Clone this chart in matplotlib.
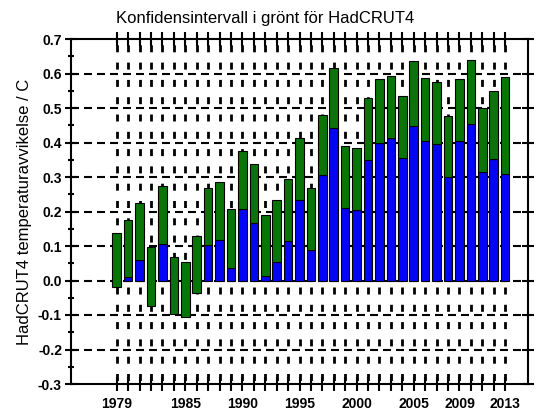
import matplotlib
matplotlib.use("Agg")
import matplotlib.pyplot as plt
import numpy as np

plt.rcParams['font.family'] = ['Liberation Sans', 'DejaVu Sans']
plt.rcParams['lines.scale_dashes'] = False

years = list(range(1979, 2014))
lower = [-0.019, 0.010, 0.060, -0.073, 0.107, -0.096, -0.107, -0.036, 0.103, 0.117,
         0.036, 0.207, 0.166, 0.014, 0.055, 0.115, 0.234, 0.089, 0.305, 0.441,
         0.210, 0.204, 0.349, 0.400, 0.412, 0.355, 0.447, 0.403, 0.396, 0.300,
         0.403, 0.455, 0.314, 0.351, 0.308]
upper = [0.137, 0.175, 0.224, 0.097, 0.274, 0.068, 0.054, 0.129, 0.268, 0.285,
         0.207, 0.376, 0.337, 0.190, 0.233, 0.294, 0.412, 0.268, 0.479, 0.616,
         0.389, 0.383, 0.528, 0.584, 0.594, 0.535, 0.635, 0.586, 0.574, 0.476,
         0.584, 0.638, 0.501, 0.548, 0.591]
label_years = [1979, 1985, 1990, 1995, 2000, 2005, 2009, 2013]
yticks = [-0.3, -0.2, -0.1, 0.0, 0.1, 0.2, 0.3, 0.4, 0.5, 0.6, 0.7]

title = "Konfidensintervall i grönt för HadCRUT4"
ylabel = "HadCRUT4 temperaturavvikelse / C"

GREEN = '#097509'
BLUE = '#0505f5'

fig = plt.figure(figsize=(5.5, 4.17), dpi=100)
ax = fig.add_axes([71/550, 1-384/417, (528-71)/550, (384-39)/417])
ax.set_xlim(1975, 2015)
ax.set_ylim(-0.3, 0.7)

x = np.array(years, dtype=float)
lo = np.array(lower)
hi = np.array(upper)
blue_h = np.where(lo > 0, lo, 0.0)
ax.bar(x, blue_h, width=0.75, bottom=0, color=BLUE, edgecolor='black', linewidth=0.8, zorder=3)
ax.bar(x, hi - lo, width=0.75, bottom=lo, color=GREEN, edgecolor='black', linewidth=0.8, zorder=3)

# dashed grid
px = 72/100.0
ax.hlines(yticks[1:-1], 1975, 2015, colors='black', linewidth=1.5,
          linestyles=[(0, (8*px, 5*px))], zorder=1)
ax.vlines(x, -0.3, 0.7, colors='black', linewidth=2.0,
          linestyles=[((17.3-3.5)*px, (7*px, 10.3*px))], zorder=1)

ax.set_yticks(yticks)
ax.set_yticklabels([f"{v:.1f}" for v in yticks], fontweight='bold', fontsize=10)
ax.set_yticks(np.arange(-0.25, 0.7, 0.1), minor=True)
ax.set_xticks(x)
ax.set_xticklabels([str(y) if y in label_years else '' for y in years], fontweight='bold', fontsize=10)
ax.tick_params(axis='y', which='major', direction='inout', length=9, width=1.5, pad=2, right=True)
ax.tick_params(axis='y', which='minor', direction='inout', length=5, width=1.5, right=False)
ax.tick_params(axis='x', which='major', direction='inout', length=10, width=1.5, pad=4, top=True)
for s in ax.spines.values():
    s.set_linewidth(1.5)

fig.text(265/550, 1-18/417, title, ha='center', va='center', fontsize=12)
ax.set_ylabel(ylabel, fontsize=12, labelpad=4)

fig.savefig('out.png', dpi=100)
